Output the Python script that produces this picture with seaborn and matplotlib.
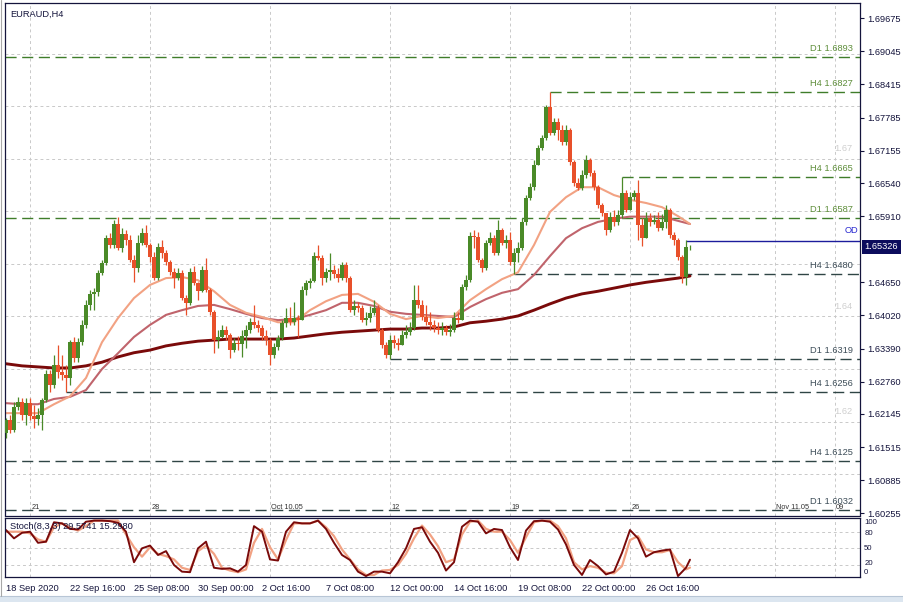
import numpy as np
import pandas as pd
import matplotlib
matplotlib.use("Agg")
import matplotlib.pyplot as plt
from matplotlib.patches import Rectangle
import matplotlib.transforms as mtransforms
import seaborn as sns

# ---------------- data ----------------
first_open = 1.6178
closes = [1.6203, 1.6184, 1.6228, 1.6237, 1.6212, 1.6235, 1.6210, 1.6205, 1.6212, 1.6241,
          1.6290, 1.6269, 1.6307, 1.6294, 1.6288, 1.6283, 1.6351, 1.6321, 1.6351, 1.6384,
          1.6422, 1.6443, 1.6447, 1.6483, 1.6502, 1.6549, 1.6536, 1.6576, 1.6530, 1.6557,
          1.6546, 1.6507, 1.6492, 1.6540, 1.6559, 1.6536, 1.6513, 1.6473, 1.6532, 1.6521,
          1.6503, 1.6484, 1.6473, 1.6483, 1.6435, 1.6426, 1.6484, 1.6464, 1.6448, 1.6488,
          1.6450, 1.6409, 1.6355, 1.6361, 1.6374, 1.6365, 1.6336, 1.6349, 1.6347, 1.6363,
          1.6374, 1.6389, 1.6384, 1.6378, 1.6363, 1.6355, 1.6326, 1.6342, 1.6359, 1.6388,
          1.6397, 1.6389, 1.6397, 1.6393, 1.6450, 1.6464, 1.6467, 1.6515, 1.6511, 1.6473,
          1.6484, 1.6488, 1.6481, 1.6473, 1.6498, 1.6473, 1.6412, 1.6420, 1.6416, 1.6393,
          1.6397, 1.6407, 1.6416, 1.6374, 1.6345, 1.6326, 1.6355, 1.6349, 1.6345, 1.6365,
          1.6370, 1.6378, 1.6431, 1.6422, 1.6399, 1.6389, 1.6384, 1.6378, 1.6374, 1.6378,
          1.6370, 1.6374, 1.6397, 1.6393, 1.6456, 1.6469, 1.6553, 1.6551, 1.6507, 1.6492,
          1.6540, 1.6549, 1.6521, 1.6565, 1.6540, 1.6546, 1.6503, 1.6521, 1.6530, 1.6580,
          1.6626, 1.6646, 1.6688, 1.6721, 1.6740, 1.6799, 1.6749, 1.6770, 1.6755, 1.6732,
          1.6755, 1.6694, 1.6654, 1.6645, 1.6669, 1.6698, 1.6673, 1.6646, 1.6612, 1.6597,
          1.6565, 1.6589, 1.6580, 1.6593, 1.6635, 1.6603, 1.6628, 1.6635, 1.6574, 1.6549,
          1.6588, 1.6580, 1.6584, 1.6568, 1.6580, 1.6603, 1.6555, 1.6546, 1.6513, 1.6475,
          1.6532, 1.6533]
highs = [1.6207, 1.6212, 1.6237, 1.6247, 1.6245, 1.6245, 1.6245, 1.6231, 1.6226, 1.6245,
         1.6298, 1.6298, 1.6326, 1.6345, 1.6326, 1.6307, 1.6355, 1.6361, 1.6359, 1.6393,
         1.6431, 1.6450, 1.6454, 1.6488, 1.6507, 1.6555, 1.6559, 1.6584, 1.6590, 1.6568,
         1.6565, 1.6555, 1.6517, 1.6555, 1.6568, 1.6574, 1.6540, 1.6523, 1.6540, 1.6546,
         1.6527, 1.6507, 1.6492, 1.6492, 1.6488, 1.6441, 1.6492, 1.6496, 1.6465, 1.6496,
         1.6511, 1.6454, 1.6412, 1.6374, 1.6384, 1.6382, 1.6368, 1.6359, 1.6363, 1.6374,
         1.6384, 1.6397, 1.6422, 1.6393, 1.6384, 1.6374, 1.6359, 1.6349, 1.6365, 1.6393,
         1.6416, 1.6418, 1.6428, 1.6403, 1.6458, 1.6469, 1.6473, 1.6523, 1.6536, 1.6517,
         1.6492, 1.6521, 1.6498, 1.6492, 1.6503, 1.6503, 1.6477, 1.6431, 1.6428, 1.6422,
         1.6409, 1.6420, 1.6431, 1.6422, 1.6378, 1.6351, 1.6365, 1.6365, 1.6359, 1.6374,
         1.6384, 1.6389, 1.6460, 1.6460, 1.6431, 1.6422, 1.6409, 1.6393, 1.6389, 1.6389,
         1.6384, 1.6386, 1.6409, 1.6409, 1.6462, 1.6479, 1.6561, 1.6565, 1.6561, 1.6511,
         1.6546, 1.6561, 1.6555, 1.6584, 1.6568, 1.6555, 1.6561, 1.6530, 1.6542, 1.6588,
         1.6631, 1.6654, 1.6698, 1.6726, 1.6745, 1.6802, 1.6827, 1.6778, 1.6778, 1.6764,
         1.6764, 1.6759, 1.6698, 1.6664, 1.6679, 1.6707, 1.6702, 1.6679, 1.6650, 1.6616,
         1.6597, 1.6599, 1.6603, 1.6603, 1.6665, 1.6641, 1.6637, 1.6641, 1.6660, 1.6588,
         1.6599, 1.6597, 1.6593, 1.6599, 1.6595, 1.6612, 1.6607, 1.6561, 1.6549, 1.6517,
         1.6546, 1.6536]
lows = [1.6169, 1.6178, 1.6180, 1.6222, 1.6203, 1.6193, 1.6203, 1.6188, 1.6193, 1.6184,
        1.6237, 1.6256, 1.6264, 1.6283, 1.6279, 1.6256, 1.6269, 1.6313, 1.6313, 1.6345,
        1.6378, 1.6412, 1.6412, 1.6439, 1.6479, 1.6498, 1.6530, 1.6530, 1.6527, 1.6523,
        1.6536, 1.6503, 1.6465, 1.6484, 1.6536, 1.6532, 1.6503, 1.6469, 1.6469, 1.6511,
        1.6498, 1.6479, 1.6454, 1.6469, 1.6431, 1.6403, 1.6422, 1.6460, 1.6431, 1.6447,
        1.6447, 1.6403, 1.6330, 1.6340, 1.6359, 1.6355, 1.6321, 1.6332, 1.6336, 1.6323,
        1.6340, 1.6368, 1.6378, 1.6370, 1.6355, 1.6345, 1.6307, 1.6321, 1.6336, 1.6355,
        1.6380, 1.6384, 1.6384, 1.6361, 1.6393, 1.6441, 1.6454, 1.6465, 1.6507, 1.6460,
        1.6465, 1.6469, 1.6473, 1.6465, 1.6469, 1.6465, 1.6409, 1.6403, 1.6409, 1.6389,
        1.6384, 1.6389, 1.6403, 1.6370, 1.6340, 1.6321, 1.6319, 1.6340, 1.6336, 1.6345,
        1.6359, 1.6365, 1.6374, 1.6416, 1.6393, 1.6384, 1.6374, 1.6370, 1.6366, 1.6365,
        1.6365, 1.6363, 1.6370, 1.6388, 1.6393, 1.6450, 1.6465, 1.6530, 1.6503, 1.6484,
        1.6488, 1.6536, 1.6517, 1.6517, 1.6536, 1.6530, 1.6498, 1.6480, 1.6503, 1.6527,
        1.6574, 1.6622, 1.6641, 1.6688, 1.6717, 1.6736, 1.6745, 1.6745, 1.6736, 1.6726,
        1.6726, 1.6688, 1.6648, 1.6641, 1.6641, 1.6664, 1.6667, 1.6641, 1.6607, 1.6591,
        1.6555, 1.6561, 1.6572, 1.6574, 1.6588, 1.6599, 1.6603, 1.6622, 1.6546, 1.6534,
        1.6549, 1.6572, 1.6576, 1.6563, 1.6565, 1.6568, 1.6549, 1.6536, 1.6507, 1.6464,
        1.6460, 1.6527]

# moving averages, read every 4th bar (and the last bar)
ma_bars = list(range(0, 169, 4)) + [171]
ma_fast = [1.6216, 1.6216, 1.6216, 1.6233, 1.6248, 1.6283, 1.6351, 1.6397, 1.6435, 1.6460,
           1.6473, 1.6475, 1.6469, 1.6448, 1.6422, 1.6407, 1.6399, 1.6389, 1.6389, 1.6412,
           1.6429, 1.6441, 1.6443, 1.6428, 1.6405, 1.6395, 1.6401, 1.6397, 1.6401, 1.6431,
           1.6452, 1.6471, 1.6484, 1.6536, 1.6599, 1.6627, 1.6646, 1.6646, 1.6631, 1.6622,
           1.6616, 1.6608, 1.6591, 1.6576]
ma_mid = [1.6235, 1.6233, 1.6233, 1.6243, 1.6247, 1.6260, 1.6300, 1.6330, 1.6361, 1.6384,
          1.6403, 1.6412, 1.6420, 1.6422, 1.6414, 1.6405, 1.6397, 1.6393, 1.6395, 1.6403,
          1.6412, 1.6426, 1.6426, 1.6420, 1.6409, 1.6405, 1.6403, 1.6401, 1.6399, 1.6418,
          1.6433, 1.6445, 1.6452, 1.6479, 1.6515, 1.6549, 1.6568, 1.6580, 1.6586, 1.6590,
          1.6590, 1.6590, 1.6582, 1.6576]
ma_slow = [1.6310, 1.6306, 1.6304, 1.6302, 1.6302, 1.6306, 1.6313, 1.6323, 1.6331, 1.6336,
           1.6344, 1.6349, 1.6353, 1.6355, 1.6357, 1.6357, 1.6357, 1.6357, 1.6359, 1.6363,
           1.6367, 1.6370, 1.6372, 1.6374, 1.6376, 1.6376, 1.6378, 1.6378, 1.6380, 1.6388,
           1.6391, 1.6395, 1.6401, 1.6412, 1.6424, 1.6435, 1.6443, 1.6448, 1.6454, 1.6460,
           1.6465, 1.6469, 1.6473, 1.6477]

# stochastic (8,3,3), read every 2nd bar (and the last bar)
st_bars = list(range(0, 171, 2)) + [171]
stoch_main = [83, 68, 78, 80, 60, 62, 97, 95, 85, 84, 98, 100, 100, 99, 96, 80, 25, 50, 55, 38,
              45, 20, 8, 7, 50, 62, 15, 13, 14, 8, 20, 90, 80, 30, 28, 80, 97, 95, 95, 100,
              85, 60, 38, 29, 8, 0, 8, 8, 5, 25, 50, 85, 88, 62, 42, 10, 25, 89, 100, 98,
              77, 85, 83, 52, 29, 82, 99, 100, 98, 84, 57, 20, 2, 29, 18, 3, 8, 42, 83, 68,
              35, 43, 46, 48, 0, 15, 29.5741]
stoch_signal = [80, 80, 80, 77, 66, 62, 88, 95, 88, 82, 90, 100, 100, 100, 100, 75, 52, 35, 52, 40,
                36, 30, 15, 11, 45, 55, 40, 15, 10, 7, 12, 60, 85, 52, 30, 65, 95, 95, 95, 100,
                88, 72, 48, 30, 12, 2, 2, 10, 11, 20, 40, 68, 91, 75, 54, 25, 30, 75, 98, 100,
                85, 80, 80, 65, 42, 70, 97, 100, 100, 90, 68, 25, 12, 18, 15, 6, 5, 18, 65, 72,
                48, 43, 43, 47, 25, 12, 15.2980]

# support / resistance levels
level_vals = [1.6893, 1.6827, 1.6665, 1.6587, 1.6480, 1.6319, 1.6256, 1.6125, 1.6032]
level_tf = ["D1", "H4", "H4", "D1", "H4", "D1", "H4", "H4", "D1"]
level_start_bar = [None, 136, 154, None, 127, 96, 15, None, None]
od_level = 1.65445
od_start_bar = 170
current_price = 1.65326
round_levels = [1.61, 1.62, 1.63, 1.64, 1.65, 1.66, 1.67, 1.68, 1.69]
round_labels = {1.67: "1.67", 1.64: "1.64", 1.62: "1.62"}

ytick_vals = [1.69675, 1.69045, 1.68415, 1.67785, 1.67155, 1.66540, 1.65910,
              1.64650, 1.64020, 1.63390, 1.62760, 1.62145, 1.61515, 1.60885, 1.60255]
ytick_labels = ["1.69675", "1.69045", "1.68415", "1.67785", "1.67155", "1.66540", "1.65910",
                "1.64650", "1.64020", "1.63390", "1.62760", "1.62145", "1.61515", "1.60885", "1.60255"]
time_tick_bars = list(range(0, 161, 16))
time_tick_labels = ["18 Sep 2020", "22 Sep 16:00", "25 Sep 08:00", "30 Sep 00:00", "2 Oct 16:00",
                    "7 Oct 08:00", "12 Oct 00:00", "14 Oct 16:00", "19 Oct 08:00", "22 Oct 00:00",
                    "26 Oct 16:00"]
week_bars = [6, 36, 66, 96, 126, 156, 192.25, 207.25]
week_labels = ["21", "28", "Oct 10.05", "12", "19", "26", "Nov 11.05", "09"]
stoch_levels = [100, 80, 50, 20, 0]
stoch_level_labels = ["100", "80", "50", "20", "0"]

# ---------------- styling ----------------
sns.set_style("white")
plt.rcParams['font.family'] = ['Liberation Sans', 'DejaVu Sans']
FS = 6.7
GREEN = "#4a8a28"
RED = "#e8502a"
FAST_C = "#f2a283"
MID_C = "#c0646c"
SLOW_C = "#7a0a0a"
AXC = "#14143c"
GRID_C = "#c9c9c9"
LVL_UP = "#3f7d2a"
LVL_UP_TXT = "#5e8e3a"
LVL_DN = "#2f4545"
LVL_DN_TXT = "#3d4d58"

W, H = 904, 602
fig = plt.figure(figsize=(W / 100, H / 100), dpi=100)
fig.patch.set_facecolor("white")
ax = fig.add_axes([5 / W, 1 - 515.5 / H, 855 / W, 512.5 / H])
axs = fig.add_axes([5 / W, 1 - 577.3 / H, 855 / W, 59.3 / H])

df = pd.DataFrame({"bar": np.arange(len(closes)),
                   "open": [first_open] + closes[:-1],
                   "close": closes, "high": highs, "low": lows})

XMIN, XMAX = -0.25, 213.5
ax.set_xlim(XMIN, XMAX)
ax.set_ylim(1.60212, 1.69966)
axs.set_xlim(XMIN, XMAX)
axs.set_ylim(-2.2, 104.7)

# grid: round-number price lines and week separators
for lv in round_levels:
    ax.axhline(lv, color=GRID_C, lw=0.7, ls=(0, (3, 3)), zorder=0)
for wb in week_bars:
    ax.axvline(wb, color=GRID_C, lw=0.7, ls=(0, (3, 3)), zorder=0)
    axs.axvline(wb, color=GRID_C, lw=0.7, ls=(0, (3, 3)), zorder=0)
for lv in [20, 50, 80]:
    axs.axhline(lv, color=GRID_C, lw=0.7, ls=(0, (3, 3)), zorder=0)

blend = mtransforms.blended_transform_factory(ax.transAxes, ax.transData)
for lv, txt in round_labels.items():
    ax.annotate(txt, xy=(0.9915, lv), xycoords=blend, xytext=(0, 4),
                textcoords="offset points", ha="right", va="bottom",
                fontsize=FS, color="#cfcfcf")

# levels
for lv, tf, sb in zip(level_vals, level_tf, level_start_bar):
    above = lv > current_price
    lc = LVL_UP if above else LVL_DN
    tc = LVL_UP_TXT if above else LVL_DN_TXT
    x0 = XMIN if sb is None else sb
    ax.hlines(lv, x0, XMAX, colors=lc, lw=1.0, linestyles=(0, (8, 4)), zorder=1)
    ax.annotate(f"{tf} {lv:.4f}", xy=(0.9915, lv), xycoords=blend, xytext=(0, 3),
                textcoords="offset points", ha="right", va="bottom", fontsize=FS, color=tc)

ax.hlines(od_level, od_start_bar, XMAX, colors="#1c1c9c", lw=1.0, zorder=2)
ax.annotate("OD", xy=(0.9975, od_level), xycoords=blend, xytext=(0, 4),
            textcoords="offset points", ha="right", va="bottom", fontsize=FS, color="#2a2ad0")

# moving averages
sns.lineplot(x=ma_bars, y=ma_slow, ax=ax, color=SLOW_C, linewidth=2.1, estimator=None,
             sort=False, legend=False, zorder=2)
sns.lineplot(x=ma_bars, y=ma_mid, ax=ax, color=MID_C, linewidth=1.5, estimator=None,
             sort=False, legend=False, zorder=2)
sns.lineplot(x=ma_bars, y=ma_fast, ax=ax, color=FAST_C, linewidth=1.5, estimator=None,
             sort=False, legend=False, zorder=2)

# candles
up = df["close"] >= df["open"]
cols = np.where(up, GREEN, RED)
ax.vlines(df["bar"], df["low"], df["high"], colors=cols, lw=0.9, zorder=3)
body = (df["close"] - df["open"]).abs().clip(lower=0.00004)
ax.bar(df["bar"], body, bottom=np.minimum(df["open"], df["close"]), width=0.8,
       color=cols, linewidth=0, zorder=4)

# week labels
for wb, wl in zip(week_bars, week_labels):
    ax.text(wb + 0.3, 1.6036, wl, fontsize=5.3, color="#333333", ha="left", va="center", zorder=5)

# axes styling main
ax.set_xticks([])
ax.yaxis.tick_right()
ax.set_yticks(ytick_vals)
ax.set_yticklabels(ytick_labels)
ax.tick_params(axis="y", length=3, width=0.8, pad=2, labelsize=FS, colors=AXC)
ax.set_xlabel("")
ax.set_ylabel("")
for sp in ax.spines.values():
    sp.set_color(AXC)
    sp.set_linewidth(0.9)

ax.text(0.006, 0.987, "EURAUD,H4", transform=ax.transAxes, fontsize=FS, color=AXC,
        ha="left", va="top")

# current price box
ax.annotate(f"{current_price:.5f}", xy=(1.0, current_price), xycoords=blend, xytext=(3.2, 0),
            textcoords="offset points", ha="left", va="center", fontsize=FS, color="white",
            annotation_clip=False, zorder=10,
            bbox=dict(boxstyle="square,pad=0.3", facecolor="#0c0c5c", edgecolor="none"))

# stochastic panel
sns.lineplot(x=st_bars, y=stoch_signal, ax=axs, color=FAST_C, linewidth=1.6, estimator=None,
             sort=False, legend=False)
sns.lineplot(x=st_bars, y=stoch_main, ax=axs, color=SLOW_C, linewidth=1.4, estimator=None,
             sort=False, legend=False)
axs.set_xticks(time_tick_bars)
axs.set_xticklabels(time_tick_labels, ha="left")
axs.tick_params(axis="x", length=3, width=0.8, pad=2, labelsize=FS, colors=AXC)
axs.set_yticks([])
axs.set_xlabel("")
axs.set_ylabel("")
for sp in axs.spines.values():
    sp.set_color(AXC)
    sp.set_linewidth(0.9)
axs.text(0.006, 0.93, "Stoch(8,3,3) 29.5741 15.2980", transform=axs.transAxes, fontsize=FS,
         color=AXC, ha="left", va="top")
bl2 = mtransforms.blended_transform_factory(axs.transAxes, axs.transData)
stoch_label_dy = [-1.5, -1.0, 0, 1.0, 2.5]
for val, txt, dy in zip(stoch_levels, stoch_level_labels, stoch_label_dy):
    axs.annotate(txt, xy=(1.0, val), xycoords=bl2, xytext=(3, dy), textcoords="offset points",
                 ha="left", va="center", fontsize=5.6, color=AXC)

# window chrome
fig.patches.append(Rectangle((0, 0), 1, 6 / H, transform=fig.transFigure,
                             facecolor="#dce6f0", edgecolor="none"))
fig.lines.append(plt.Line2D([0, 1], [6 / H, 6 / H], transform=fig.transFigure,
                            color="#b8c6d6", lw=0.8))
fig.lines.append(plt.Line2D([1.5 / W, 1.5 / W], [6 / H, 1], transform=fig.transFigure,
                            color="#a8a8a8", lw=0.8))

fig.savefig("out.png", dpi=100)
